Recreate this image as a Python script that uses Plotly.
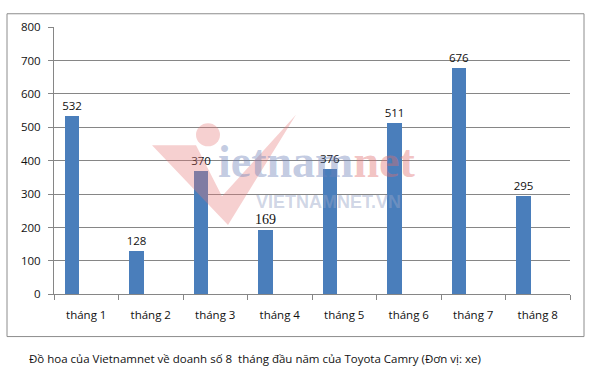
import plotly.graph_objects as go

W, H = 589, 382

categories = ["tháng 1", "tháng 2", "tháng 3", "tháng 4", "tháng 5", "tháng 6", "tháng 7", "tháng 8"]
values = [532, 128, 370, 193, 376, 511, 676, 295]
labels = ["532", "128", "370", "169", "376", "511", "676", "295"]
y_ticks = [0, 100, 200, 300, 400, 500, 600, 700, 800]
caption = "Đồ hoa của Vietnamnet về doanh số 8  tháng đầu năm của Toyota Camry (Đơn vị: xe)"

def px(x):
    return x / W

def py(y):
    return 1 - y / H

label_family = ["Open Sans"] * len(labels)
label_size = [11.5] * len(labels)
label_family[3] = "Liberation Serif"
label_size[3] = 14

fig = go.Figure()
fig.add_trace(go.Bar(
    x=categories, y=values,
    width=0.22, offset=-0.33,
    marker=dict(color="#4a7ebb", line=dict(width=0)),
    text=labels, textposition="outside", cliponaxis=False, constraintext="none",
    textfont=dict(family=label_family, size=label_size, color="#111"),
    hoverinfo="skip",
))

shapes = []
shapes.append(dict(type="rect", xref="paper", yref="paper",
                   x0=px(7), x1=px(584), y0=py(342), y1=py(6),
                   line=dict(color="#8c8c8c", width=1), layer="below"))

def path(pts):
    return "M " + " L ".join(f"{px(a):.4f},{py(b):.4f}" for a, b in pts) + " Z"

shapes.append(dict(type="path", xref="paper", yref="paper",
                   path=path([(152, 143), (196, 143), (222, 196), (296, 111), (228, 226)]),
                   fillcolor="rgba(230,120,120,0.35)", line=dict(width=0), layer="above"))
shapes.append(dict(type="circle", xref="paper", yref="paper",
                   x0=px(196), x1=px(220), y0=py(144), y1=py(120),
                   fillcolor="rgba(230,120,120,0.35)", line=dict(width=0), layer="above"))

watermark = ("<b><span style='color:rgba(110,130,185,0.42)'>ietnam</span>"
             "<span style='color:rgba(225,110,110,0.42)'>net</span></b>")

annotations = [
    dict(text=watermark, x=px(316), y=py(160), xref="paper", yref="paper",
         showarrow=False, font=dict(family="Liberation Serif", size=46)),
    dict(text="<b>VIETNAMNET.VN</b>", x=px(328), y=py(202), xref="paper", yref="paper",
         showarrow=False, font=dict(family="Liberation Sans", size=18, color="rgba(150,165,200,0.45)")),
    dict(text=caption, x=px(27), y=py(365), xref="paper", yref="paper",
         xanchor="left", yanchor="middle", showarrow=False,
         font=dict(family="Open Sans", size=11.5, color="#111")),
]

fig.update_layout(
    width=W, height=H,
    margin=dict(l=0, r=0, t=0, b=0),
    paper_bgcolor="white", plot_bgcolor="white",
    showlegend=False, bargap=0,
    shapes=shapes, annotations=annotations,
    xaxis=dict(domain=[px(54), px(570)], range=[-0.5, 7.5], type="category",
               showgrid=False, showline=True, linecolor="#868686", linewidth=1,
               ticks="outside", tickson="boundaries", ticklen=5, tickcolor="#868686",
               ticklabelstandoff=10,
               tickfont=dict(family="Open Sans", size=11.5, color="#111"), zeroline=False),
    yaxis=dict(domain=[py(298), py(20)], range=[0, 800], tickvals=y_ticks,
               showgrid=True, gridcolor="#868686", gridwidth=1,
               showline=True, linecolor="#868686", linewidth=1,
               ticks="outside", ticklen=5, tickcolor="#868686",
               ticklabelstandoff=5,
               tickfont=dict(family="Open Sans", size=11.5, color="#111"), zeroline=False),
)

fig.write_html("out.html")
